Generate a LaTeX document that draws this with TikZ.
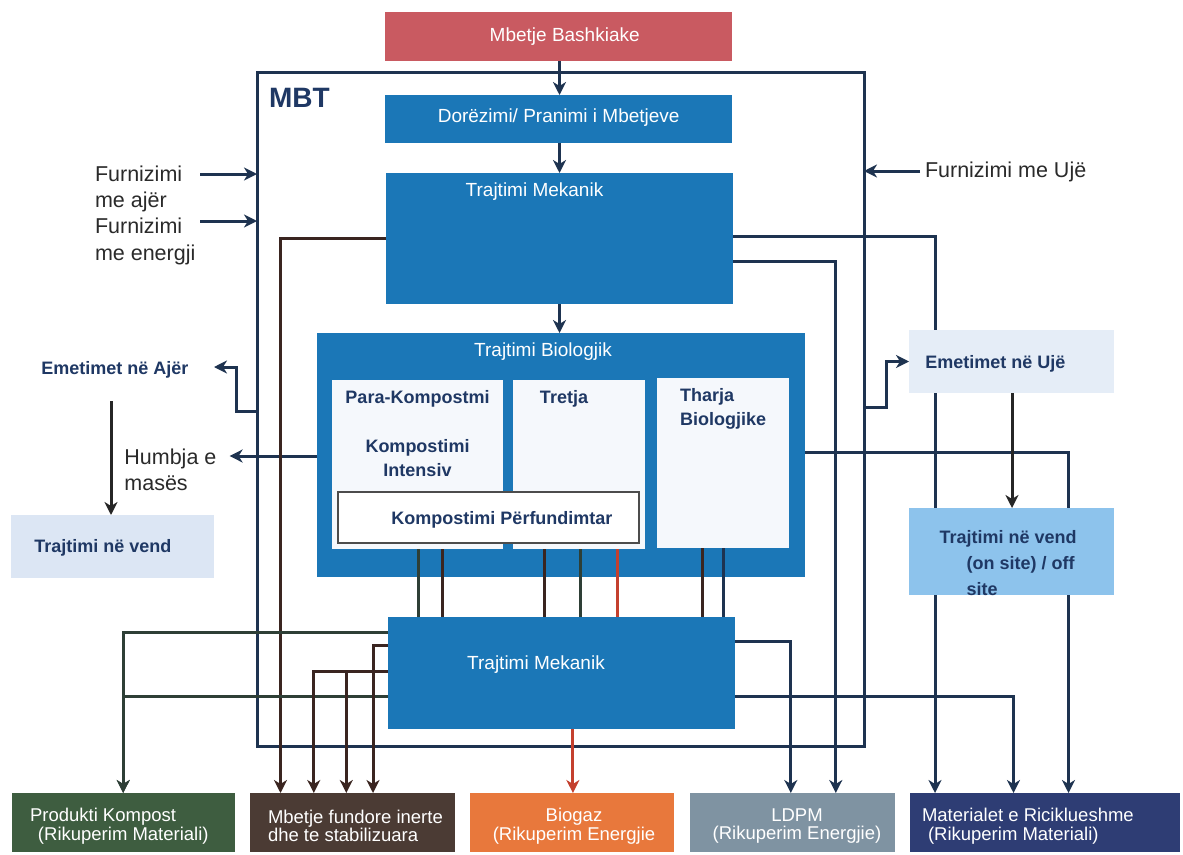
\documentclass[tikz,border=0pt]{standalone}
\usepackage{fontspec}
\setmainfont{Liberation Sans}
\usetikzlibrary{arrows.meta,calc}
\definecolor{navy}{HTML}{1E3350}
\definecolor{tnavy}{HTML}{1F3864}
\definecolor{tdark}{HTML}{2A2A2A}
\definecolor{cblue}{HTML}{1B77B7}
\definecolor{cred}{HTML}{C95A61}
\definecolor{cin}{HTML}{F5F8FC}
\definecolor{clight}{HTML}{DCE6F4}
\definecolor{clighttwo}{HTML}{E5EDF7}
\definecolor{cbluetwo}{HTML}{8DC3EC}
\definecolor{cgreen}{HTML}{3E5D40}
\definecolor{cbrown}{HTML}{4B3B34}
\definecolor{corange}{HTML}{E8783C}
\definecolor{cgray}{HTML}{7F93A2}
\definecolor{cmat}{HTML}{2E3D74}
\definecolor{cbrownl}{HTML}{3A2520}
\definecolor{cgl}{HTML}{2E3F36}
\definecolor{credl}{HTML}{C4402E}
\newcommand\fsz[2]{\fontsize{#1}{#2}\selectfont}
\pgfdeclarelayer{paper}
\pgfdeclarelayer{bg}
\pgfsetlayers{paper,bg,main}
\begin{document}
\begin{tikzpicture}[x=1pt,y=-1pt,
  box/.style={rectangle,inner sep=0pt,outer sep=0pt,draw=none},
  lbl/.style={inner sep=0pt,outer sep=0pt},
  wt/.style={lbl,text=white,font=\fsz{19}{19}},
  bwt/.style={lbl,text=white,font=\fsz{18.5}{18.5}},
  bt/.style={lbl,text=tnavy,font=\bfseries\fsz{18}{23.3}},
  dt/.style={lbl,text=tdark,font=\fsz{21.5}{26.5},align=left,anchor=west},
  ln/.style={line width=3pt,draw=navy},
  arr/.style={-{Stealth[length=13pt,width=13pt,inset=4pt]}},
]
\useasboundingbox (0,0) rectangle (1183,854);
\begin{pgfonlayer}{paper}
\fill[white] (0,0) rectangle (1183,854);
\end{pgfonlayer}

% MBT frame
\node[box,draw=navy,line width=3pt,minimum width=607,minimum height=674] (mbt) at (560.5,409) {};
\node[lbl,text=tnavy,font=\bfseries\fsz{28}{30},anchor=west] (mbtt) at (269,98) {MBT};

% main column
\node[box,fill=cred,minimum width=347,minimum height=49] (red) at (558.5,36.5) {};
\node[wt] (redt) at (564.7,37) {Mbetje Bashkiake};
\node[box,fill=cblue,minimum width=347,minimum height=48] (dor) at (558.5,119) {};
\node[wt] (dort) at (558.7,118) {Dorëzimi/ Pranimi i Mbetjeve};
\node[box,fill=cblue,minimum width=347,minimum height=131] (mek1) at (559.5,238.5) {};
\node[wt] (mek1t) at (534.5,192) {Trajtimi Mekanik};

\node[box,fill=cblue,minimum width=488,minimum height=244] (bio) at (561,455) {};
\node[wt] (biot) at (543,352) {Trajtimi Biologjik};
\node[box,fill=cin,minimum width=171,minimum height=169] (para) at (417.5,464.5) {};
\node[box,fill=cin,minimum width=132,minimum height=169] (tretja) at (579,464.5) {};
\node[box,fill=cin,minimum width=132,minimum height=170] (tharja) at (723,463) {};
\node[box,fill=white,draw=black!70,line width=2pt,minimum width=301,minimum height=51] (kp) at (488.5,517.5) {};
\node[bt] (parat) at (417.5,399) {Para-Kompostmi};
\node[bt,align=center] (kit) at (417.5,458) {Kompostimi\\Intensiv};
\node[bt] (tretjat) at (564,399) {Tretja};
\node[bt,align=left,anchor=west] (tharjat) at (680,409) {Tharja\\Biologjike};
\node[bt] (kpt) at (502,520) {Kompostimi Përfundimtar};

\node[box,fill=cblue,minimum width=347,minimum height=112] (mek2) at (561.5,673) {};
\node[wt] (mek2t) at (536,665) {Trajtimi Mekanik};

% bottom boxes
\node[box,fill=cgreen,minimum width=223,minimum height=59] (prod) at (123.5,822.5) {};
\node[bwt,align=left,anchor=west] (prodt) at (30,826) {Produkti Kompost\\\hspace*{8pt}(Rikuperim Materiali)};
\node[box,fill=cbrown,minimum width=205,minimum height=59] (mbet) at (352.5,822.5) {};
\node[bwt,align=left,anchor=west] (mbett) at (268,826) {Mbetje fundore inerte\\dhe te stabilizuara};
\node[box,fill=corange,minimum width=204,minimum height=59] (biogaz) at (572,822.5) {};
\node[bwt,align=center] (biogazt) at (574,826) {Biogaz\\(Rikuperim Energjie};
\node[box,fill=cgray,minimum width=205,minimum height=59] (ldpm) at (792.5,822.5) {};
\node[bwt,align=center] (ldpmt) at (797,826) {LDPM\\(Rikuperim Energjie)};
\node[box,fill=cmat,minimum width=270,minimum height=59] (mat) at (1045,822.5) {};
\node[bwt,align=left,anchor=west] (matt) at (922,826) {Materialet e Riciklueshme\\\hspace*{6pt}(Rikuperim Materiali)};

% left side
\node[dt] (fajer) at (95,189) {Furnizimi\\me ajër};
\node[dt] (fen) at (95,241.5) {Furnizimi\\me energji};
\node[bt,anchor=west] (ajer) at (41.3,370) {Emetimet në Ajër};
\node[dt] (humb) at (124.4,470) {Humbja e\\masës};
\node[box,fill=clight,minimum width=203,minimum height=63] (tvl) at (112.5,546.5) {};
\node[bt,anchor=west] (tvlt) at (34.4,547.7) {Trajtimi në vend};

% right side
\node[dt] (fuje) at (925,171.7) {Furnizimi me Ujë};
\node[box,fill=clighttwo,minimum width=205,minimum height=63] (emu) at (1011.5,361.5) {};
\node[bt,anchor=west] (emut) at (925.4,364.3) {Emetimet në Ujë};
\node[box,fill=cbluetwo,minimum width=205,minimum height=87] (tvr) at (1011.5,551.5) {};
\node[bt,align=left,anchor=west,font=\bfseries\fsz{18}{26.3}] (tvrt) at (939.6,563) {Trajtimi në vend\\\hspace*{27pt}(on site) / off\\\hspace*{27pt}site};

% free-end coordinates
\coordinate (fa1) at (200,174);
\coordinate (fa2) at (200,221);
\coordinate (fu1) at (920,171);
\coordinate (ajin) at (214,367);
\coordinate (humbin) at (229.6,456);
\coordinate (ajdown) at (111,401);
\coordinate (br1) at (346.3,671.7);

% connectors behind boxes
\begin{pgfonlayer}{bg}
\draw[ln,arr] (bio.east |- 0,452.7) -| (mat.north -| 1068.5,0);
\draw[ln,arr] (mek1.east |- 0,236.7) -| (mat.north -| 935,0);
\end{pgfonlayer}

% main flow
\draw[ln,arr] (red.south -| 559.5,0) -- (dor.north -| 559.5,0);
\draw[ln,arr] (dor.south -| 559.5,0) -- (mek1.north -| 559.5,0);
\draw[ln,arr] (mek1.south -| 559.5,0) -- (bio.north -| 559.5,0);

% supplies
\draw[ln,arr] (fa1) -- (mbt.west |- fa1);
\draw[ln,arr] (fa2) -- (mbt.west |- fa2);
\draw[ln,arr] (fu1) -- (mbt.east |- fu1);

% emissions
\draw[ln,arr] (mbt.west |- 0,411) -| ($(ajin)+(22,0)$) -- (ajin);
\draw[ln,arr] (bio.west |- humbin) -- (humbin);
\draw[ln,arr,draw=black!85] (ajdown) -- (tvl.north -| ajdown);
\draw[ln,arr] (mbt.east |- 0,407) -| ($(emu.west)+(-22.5,0)$) -- (emu.west);
\draw[ln,arr,draw=black!85] (emu.south -| 1012,0) -- (tvr.north -| 1012,0);

% bio to mek2
\foreach \xx/\cc in {418.3/cgl,442.3/cbrownl}
  \draw[ln,draw=\cc] (para.south -| \xx,0) -- (mek2.north -| \xx,0);
\foreach \xx/\cc in {544/cbrownl,580/cgl,617.7/credl}
  \draw[ln,draw=\cc] (tretja.south -| \xx,0) -- (mek2.north -| \xx,0);
\foreach \xx/\cc in {702.7/cbrownl,723.3/navy}
  \draw[ln,draw=\cc] (tharja.south -| \xx,0) -- (mek2.north -| \xx,0);

% outputs
\draw[ln,arr] (mek1.east |- 0,261.7) -| (ldpm.north -| 835.8,0);
\draw[ln,arr] (mek2.east |- 0,641.7) -| (ldpm.north -| 790.8,0);
\draw[ln,arr] (mek2.east |- 0,696.7) -| (mat.north -| 1013.5,0);
\draw[ln,arr,draw=cbrownl] (mek1.west |- 0,238.3) -| (mbet.north -| 280.5,0);
\draw[ln,arr,draw=cgl] (mek2.west |- 0,632.3) -| (prod.north -| 123.2,0);
\draw[ln,arr,draw=cgl] (mek2.west |- 0,696.7) -| (prod.north -| 123.2,0);
\draw[ln,arr,draw=cbrownl] (mek2.west |- 0,645) -| (mbet.north -| 373,0);
\draw[ln,arr,draw=cbrownl] (mek2.west |- 0,671.7) -| (mbet.north -| 313.8,0);
\draw[ln,arr,draw=cbrownl] (br1) -- (mbet.north -| br1);
\draw[ln,arr,draw=credl] (mek2.south -| 572.9,0) -- (biogaz.north -| 572.9,0);
\end{tikzpicture}
\end{document}
